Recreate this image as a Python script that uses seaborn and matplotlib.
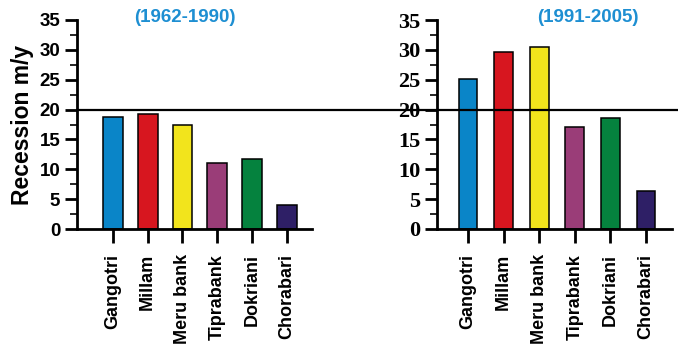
import numpy as np
import pandas as pd
import matplotlib
matplotlib.use("Agg")
import matplotlib.pyplot as plt
import matplotlib.transforms as mtransforms
from matplotlib.lines import Line2D
from matplotlib.ticker import MultipleLocator
import seaborn as sns

# data
glaciers = ["Gangotri", "Millam", "Meru bank", "Tiprabank", "Dokriani", "Chorabari"]
recession_1962_1990 = [18.8, 19.2, 17.4, 11.0, 11.8, 4.1]
recession_1991_2005 = [25.1, 29.6, 30.4, 17.1, 18.6, 6.4]
periods = ["(1962-1990)", "(1991-2005)"]
bar_colors = ["#0A85C8", "#D7161F", "#F2E41C", "#9A3D78", "#05823E", "#2E1F66"]
threshold = 20

df1 = pd.DataFrame({"glacier": glaciers, "recession": recession_1962_1990})
df2 = pd.DataFrame({"glacier": glaciers, "recession": recession_1991_2005})

sns.set_style("ticks", {"axes.edgecolor": "black", "text.color": "black",
                        "xtick.color": "black", "ytick.color": "black",
                        "axes.labelcolor": "black"})
plt.rcParams["font.family"] = ["Liberation Sans", "DejaVu Sans"]

fig = plt.figure(figsize=(6.78, 3.54), dpi=100)
W, H = 678, 354
ax1 = fig.add_axes([77 / W, (H - 229) / H, 235 / W, 209 / H])
ax2 = fig.add_axes([437 / W, (H - 229) / H, 235 / W, 209 / H])

palette = dict(zip(glaciers, bar_colors))
sns.barplot(data=df1, x="glacier", y="recession", hue="glacier", palette=palette,
            legend=False, width=0.57, edgecolor="black", linewidth=1.1,
            saturation=1, ax=ax1)
sns.barplot(data=df2, x="glacier", y="recession", hue="glacier", palette=palette,
            legend=False, width=0.53, edgecolor="black", linewidth=1.1,
            saturation=1, ax=ax2)

ax1.set_xlim(-1.03, 5.72)
ax2.set_xlim(-0.87, 5.73)

for ax, serif in [(ax1, False), (ax2, True)]:
    ax.set_ylim(0, 35)
    ax.yaxis.set_major_locator(MultipleLocator(5))
    ax.yaxis.set_minor_locator(MultipleLocator(2.5))
    sns.despine(ax=ax)
    for s in ["left", "bottom"]:
        ax.spines[s].set_linewidth(2)
    ax.tick_params(axis="y", which="major", length=9, width=2, pad=3)
    ax.tick_params(axis="y", which="minor", length=5, width=1.2)
    ax.tick_params(axis="x", which="major", length=10, width=2, pad=8)
    ax.set_xlabel("")
    ax.set_ylabel("")
    ax.set_xticks(range(len(glaciers)))
    ax.set_xticklabels(glaciers, rotation=90, fontsize=13, fontweight="bold")
    ax.set_yticks(range(0, 36, 5))
    if serif:
        ax.set_yticklabels([str(v) for v in range(0, 36, 5)], fontsize=16,
                           fontweight="bold", family="Liberation Serif")
    else:
        ax.set_yticklabels([str(v) for v in range(0, 36, 5)], fontsize=13.5,
                           fontweight="bold")
    ax.patch.set_visible(False)

ax1.set_ylabel("Recession m/y", fontsize=16.5, fontweight="bold", labelpad=4)

ax1.text(0.46, 1.01, periods[0], transform=ax1.transAxes, ha="center", va="center",
         color="#1E8FD2", fontsize=13.5, fontweight="bold")
ax2.text(0.64, 1.01, periods[1], transform=ax2.transAxes, ha="center", va="center",
         color="#1E8FD2", fontsize=13.5, fontweight="bold")

# horizontal reference line across both panels
trans = mtransforms.blended_transform_factory(fig.transFigure, ax1.transData)
fig.add_artist(Line2D([77 / W, 1], [threshold, threshold], transform=trans,
                      color="black", linewidth=1.6, zorder=5))

fig.savefig("out.png", dpi=100)
